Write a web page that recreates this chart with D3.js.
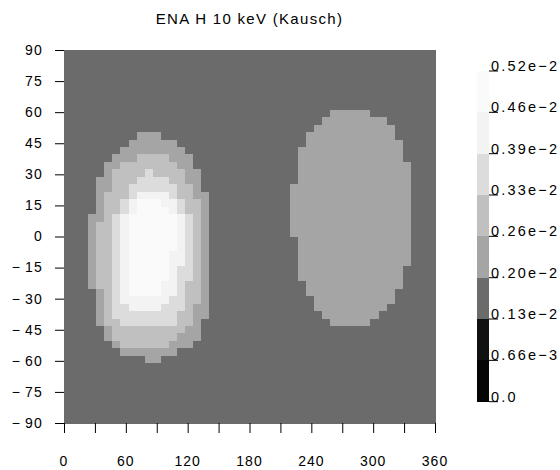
<!DOCTYPE html>
<html><head><meta charset="utf-8">
<script src="https://cdn.jsdelivr.net/npm/d3@7/dist/d3.min.js"></script>
<style>body{margin:0;background:#fff}</style>
</head><body>
<svg id="chart" width="560" height="470"></svg>
<script>
const chartTitle = "ENA H 10 keV (Kausch)";
const lonTicks = [0,30,60,90,120,150,180,210,240,270,300,330,360];
const lonLabels = [0,60,120,180,240,300,360];
const latTicks = [90,75,60,45,30,15,0,-15,-30,-45,-60,-75,-90];
const bandEdges = [0, 0.00066, 0.0013, 0.0020, 0.0026, 0.0033, 0.0039, 0.0046, 0.0052];
const bandLabels = ["0.0","0.66e\u22123","0.13e\u22122","0.20e\u22122","0.26e\u22122","0.33e\u22122","0.39e\u22122","0.46e\u22122","0.52e\u22122"];
const bandColors = ["#050505","#111111","#6b6b6b","#a5a5a5","#c0c0c0","#dcdcdc","#f3f3f3","#fafafa"];
// representative flux for each code digit used in the grid (read as colour band)
const codeValues = [0.0003, 0.0010, 0.0016, 0.0023, 0.0029, 0.0036, 0.0043, 0.0049];
const nLon = 46, nLat = 50;
// grid rows from lat +90 (top) to -90; 46 lon cells each (28 + 18 chars)
const gridRows = [
"2222222222222222222222222222"+"222222222222222222",
"2222222222222222222222222222"+"222222222222222222",
"2222222222222222222222222222"+"222222222222222222",
"2222222222222222222222222222"+"222222222222222222",
"2222222222222222222222222222"+"222222222222222222",
"2222222222222222222222222222"+"222222222222222222",
"2222222222222222222222222222"+"222222222222222222",
"2222222222222222222222222222"+"222222222222222222",
"2222222222222222222222222222"+"222223333322222222",
"2222222222222222222222222222"+"222233333333222222",
"2222222222222222222222222222"+"222333333333322222",
"2222222223332222222222222222"+"223333333333322222",
"2222222233333322222222222222"+"223333333333332222",
"2222222333333332222222222222"+"233333333333332222",
"2222223334444333222222222222"+"233333333333332222",
"2222233444444433222222222222"+"233333333333333222",
"2222234444544443322222222222"+"233333333333333222",
"2222334445555443322222222222"+"233333333333333222",
"2222334455555544322222222222"+"333333333333333222",
"2222344456666544332222222222"+"333333333333333222",
"2222344567776654432222222222"+"333333333333333222",
"2222344567777654432222222222"+"333333333333333222",
"2223345677777765432222222222"+"333333333333333222",
"2223445677777765432222222222"+"333333333333333222",
"2223445677777765432222222222"+"333333333333333222",
"2223445677777765432222222222"+"233333333333333222",
"2223445677777765432222222222"+"233333333333333222",
"2223445677777665432222222222"+"233333333333333222",
"2223445677777665432222222222"+"233333333333333222",
"2223445677777655432222222222"+"233333333333332222",
"2223445677777655432222222222"+"233333333333332222",
"2223445677776654432222222222"+"223333333333332222",
"2222345677776654432222222222"+"223333333333322222",
"2222345666666554432222222222"+"222333333333322222",
"2222345566665554332222222222"+"222333333333222222",
"2222345555555544332222222222"+"222233333332222222",
"2222344555555544322222222222"+"222223333322222222",
"2222234444444443322222222222"+"222222222222222222",
"2222234444444433322222222222"+"222222222222222222",
"2222223444444333222222222222"+"222222222222222222",
"2222222333333322222222222222"+"222222222222222222",
"2222222222332222222222222222"+"222222222222222222",
"2222222222222222222222222222"+"222222222222222222",
"2222222222222222222222222222"+"222222222222222222",
"2222222222222222222222222222"+"222222222222222222",
"2222222222222222222222222222"+"222222222222222222",
"2222222222222222222222222222"+"222222222222222222",
"2222222222222222222222222222"+"222222222222222222",
"2222222222222222222222222222"+"222222222222222222",
"2222222222222222222222222222"+"222222222222222222"
];
gridRows.forEach((r,i)=>{ if (r.length!==nLon) throw new Error("row "+i+" has length "+r.length); });
if (gridRows.length!==nLat) throw new Error("rows "+gridRows.length);

const cells = [];
gridRows.forEach((row, j) => {
  row.split("").forEach((ch, i) => {
    cells.push({
      lon0: i*360/nLon, lon1: (i+1)*360/nLon,
      lat0: 90 - j*180/nLat, lat1: 90 - (j+1)*180/nLat,
      value: codeValues[+ch]
    });
  });
});

const svg = d3.select("#chart");
const font = "'Liberation Sans', Arial, sans-serif";
const x = d3.scaleLinear().domain([0,360]).range([64,435]);
const y = d3.scaleLinear().domain([90,-90]).range([50,423]);
const color = d3.scaleThreshold().domain(bandEdges.slice(1,-1)).range(bandColors);

svg.append("g").selectAll("rect").data(cells).join("rect")
  .attr("x", d => x(d.lon0))
  .attr("y", d => y(d.lat0))
  .attr("width", d => x(d.lon1) - x(d.lon0) + 0.5)
  .attr("height", d => y(d.lat1) - y(d.lat0) + 0.5)
  .attr("fill", d => color(d.value))
  .attr("shape-rendering","crispEdges");

// title
svg.append("text").attr("x", (x(0)+x(360))/2).attr("y", 24)
  .attr("text-anchor","middle").attr("font-family",font).attr("font-size",15)
  .attr("letter-spacing","1.3px").attr("fill","#000").text(chartTitle);

// x axis
const xAxis = d3.axisBottom(x).tickValues(lonTicks).tickSize(10).tickFormat("");
const gx = svg.append("g").attr("transform",`translate(0,${y(-90)})`).call(xAxis);
gx.select(".domain").remove();
gx.selectAll("line").attr("stroke","#000");
svg.append("g").selectAll("text").data(lonLabels).join("text")
  .attr("x", d => x(d)).attr("y", 466).attr("text-anchor","middle")
  .attr("font-family",font).attr("font-size",14).attr("letter-spacing","1px").text(d => d);

// y axis
const yAxis = d3.axisLeft(y).tickValues(latTicks).tickSize(9).tickFormat("");
const gy = svg.append("g").attr("transform",`translate(${x(0)},0)`).call(yAxis);
gy.select(".domain").remove();
gy.selectAll("line").attr("stroke","#000");
svg.append("g").selectAll("text").data(latTicks).join("text")
  .attr("x", 43).attr("y", d => y(d)).attr("dy","0.35em").attr("text-anchor","end")
  .attr("font-family",font).attr("font-size",14).attr("letter-spacing","1.2px")
  .text(d => d < 0 ? "\u2212\u2009" + Math.abs(d) : d);

// colour bar
const cb = d3.scaleLinear().domain([0, bandColors.length]).range([401.7, 71]);
const cbx = 477, cbw = 12;
svg.append("g").selectAll("rect").data(bandColors).join("rect")
  .attr("x", cbx).attr("y", (d,i) => cb(i+1)).attr("width", cbw)
  .attr("height", (d,i) => cb(i) - cb(i+1)).attr("fill", d => d)
  .attr("shape-rendering","crispEdges");
const gl = svg.append("g").selectAll("g").data(bandLabels).join("g");
gl.append("line").attr("x1", cbx+cbw).attr("x2", cbx+cbw+9)
  .attr("y1", (d,i) => cb(i)).attr("y2", (d,i) => cb(i)).attr("stroke","#000");
gl.append("text").attr("x", cbx+cbw+2).attr("y", (d,i) => cb(i))
  .attr("font-family",font).attr("font-size",14.5).attr("letter-spacing","2.2px").text(d => d);
</script>
</body></html>
